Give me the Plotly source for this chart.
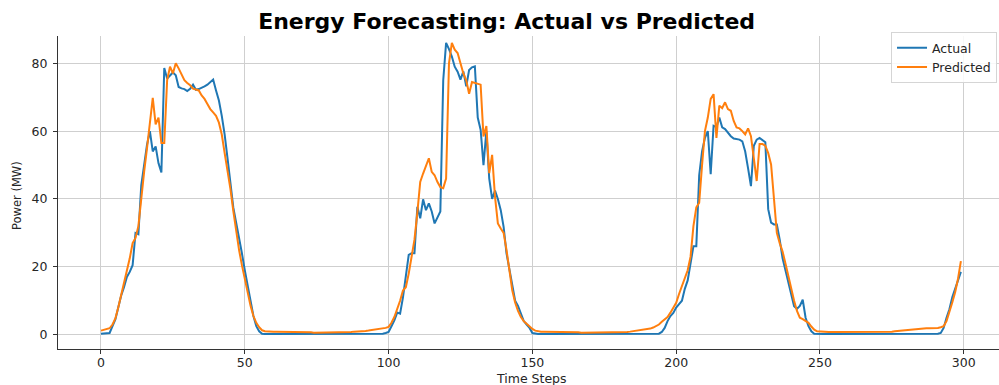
import plotly.graph_objects as go

time_steps = list(range(300))

actual = [
    0.3, 0.3, 0.3, 0.5, 2.5, 4.5, 8.0, 11.5, 14.0, 17.0,
    18.5, 20.5, 30.0, 29.6, 44.0, 50.0, 56.0, 60.0, 54.0, 55.5,
    50.5, 47.8, 78.6, 75.5, 76.5, 77.3, 76.5, 73.0, 72.6, 72.4,
    71.8, 72.5, 73.7, 72.2, 72.4, 72.7, 73.2, 73.7, 74.5, 75.2,
    72.0, 69.0, 64.5, 59.0, 52.0, 44.0, 37.5, 33.0, 29.0, 24.0,
    19.0, 14.0, 10.0, 5.5, 2.5, 1.0, 0.3, 0.2, 0.2, 0.2,
    0.2, 0.2, 0.2, 0.1, 0.2, 0.2, 0.2, 0.2, 0.1, 0.2,
    0.2, 0.2, 0.2, 0.2, 0.2, 0.1, 0.2, 0.2, 0.2, 0.2,
    0.2, 0.2, 0.1, 0.2, 0.2, 0.2, 0.2, 0.2, 0.2, 0.2,
    0.2, 0.2, 0.2, 0.2, 0.2, 0.2, 0.2, 0.3, 0.3, 0.5,
    0.8, 2.5, 4.2, 6.5, 6.2, 11.0, 18.0, 23.5, 24.0, 24.0,
    37.7, 34.3, 39.9, 36.7, 38.7, 36.3, 32.8, 34.8, 36.3, 75.0,
    86.0, 84.2, 82.0, 79.0, 77.5, 75.2, 77.6, 73.2, 78.0, 78.8,
    79.1, 64.0, 60.4, 50.0, 60.0, 46.0, 40.0, 42.5, 40.0, 36.7,
    31.8, 24.0, 19.0, 15.0, 10.0, 8.5, 6.5, 4.0, 3.0, 2.0,
    0.5, 0.3, 0.2, 0.2, 0.2, 0.2, 0.2, 0.2, 0.2, 0.2,
    0.2, 0.2, 0.2, 0.1, 0.2, 0.2, 0.2, 0.2, 0.2, 0.2,
    0.2, 0.2, 0.2, 0.2, 0.1, 0.2, 0.2, 0.2, 0.2, 0.2,
    0.2, 0.2, 0.2, 0.2, 0.2, 0.2, 0.2, 0.2, 0.2, 0.2,
    0.2, 0.2, 0.2, 0.2, 0.3, 0.8, 2.0, 4.0, 5.5, 6.4,
    8.0, 9.0, 10.0, 13.5, 16.0, 21.0, 26.1, 26.1, 47.0, 54.0,
    58.0, 60.0, 47.3, 61.6, 61.2, 64.0, 61.1, 60.6, 59.5, 58.5,
    57.8, 57.6, 57.5, 57.0, 54.0, 49.0, 43.8, 55.7, 57.5, 58.0,
    57.2, 56.7, 37.0, 33.0, 32.5, 32.5, 28.0, 22.5, 19.0, 15.5,
    12.0, 8.4, 7.6, 8.5, 10.3, 5.0, 2.5, 1.0, 0.3, 0.2,
    0.2, 0.2, 0.2, 0.2, 0.2, 0.2, 0.2, 0.2, 0.2, 0.2,
    0.2, 0.2, 0.2, 0.2, 0.1, 0.2, 0.2, 0.2, 0.2, 0.2,
    0.2, 0.2, 0.2, 0.2, 0.2, 0.2, 0.2, 0.1, 0.2, 0.2,
    0.2, 0.2, 0.2, 0.2, 0.2, 0.2, 0.2, 0.2, 0.2, 0.2,
    0.2, 0.3, 0.5, 2.0, 5.0, 7.5, 11.0, 13.5, 16.0, 18.5,
]

predicted = [
    1.2, 1.4, 1.6, 1.9, 3.0, 4.8, 8.0, 11.5, 15.0, 19.0,
    22.5, 27.0, 28.5, 32.0, 40.7, 48.0, 55.0, 62.0, 69.8, 62.0,
    64.0, 56.5, 56.5, 75.0, 79.0, 77.0, 80.0, 78.5, 76.5, 75.0,
    74.2, 73.5, 72.5, 72.2, 72.0, 70.5, 69.5, 68.0, 66.5, 65.5,
    64.5, 62.5, 59.0, 53.5, 48.5, 43.0, 36.5, 30.5, 25.0, 20.5,
    16.5, 12.0, 8.5, 5.5, 3.5, 2.2, 1.3, 1.0, 0.9, 0.9,
    0.9, 0.9, 0.9, 0.8, 0.8, 0.8, 0.8, 0.8, 0.8, 0.7,
    0.7, 0.7, 0.7, 0.7, 0.6, 0.6, 0.6, 0.6, 0.6, 0.6,
    0.6, 0.6, 0.6, 0.7, 0.7, 0.7, 0.8, 0.8, 0.9, 0.9,
    1.0, 1.0, 1.1, 1.2, 1.3, 1.4, 1.5, 1.6, 1.8, 2.0,
    2.3, 3.5, 5.2, 7.5, 10.0, 13.0, 14.0, 18.0, 23.0, 28.0,
    36.0, 45.0, 47.5, 50.0, 52.0, 48.0, 47.0, 45.0, 43.5, 43.2,
    46.0, 80.0, 86.0, 84.0, 83.0, 80.0, 77.0, 75.0, 71.0, 74.5,
    74.2, 74.0, 73.7, 58.4, 61.5, 47.6, 53.0, 40.7, 32.8, 31.3,
    30.0, 25.0, 19.0, 13.1, 9.5, 7.0, 5.2, 4.0, 3.2, 2.3,
    1.7, 1.2, 1.0, 0.9, 0.9, 0.9, 0.8, 0.8, 0.8, 0.8,
    0.7, 0.7, 0.7, 0.7, 0.7, 0.7, 0.7, 0.6, 0.6, 0.6,
    0.6, 0.6, 0.6, 0.6, 0.6, 0.6, 0.6, 0.6, 0.6, 0.6,
    0.7, 0.7, 0.8, 0.8, 0.9, 1.0, 1.1, 1.2, 1.3, 1.4,
    1.5, 1.8, 2.1, 2.5, 3.0, 3.8, 4.5, 5.2, 6.5, 8.0,
    9.4, 12.0, 14.5, 16.5, 19.0, 23.0, 32.0, 37.5, 38.9, 50.0,
    60.0, 64.0, 69.5, 70.9, 58.0, 67.5, 66.8, 68.5, 66.5, 66.0,
    63.0, 61.1, 60.8, 60.0, 59.0, 60.8, 58.5, 52.0, 45.3, 56.2,
    56.2, 55.7, 53.5, 50.2, 40.0, 30.0, 27.0, 24.5, 21.0, 17.0,
    13.0, 10.0, 7.0, 5.0, 4.6, 4.0, 3.5, 2.4, 1.5, 1.0,
    0.9, 0.9, 0.9, 0.8, 0.8, 0.8, 0.8, 0.8, 0.7, 0.7,
    0.7, 0.7, 0.7, 0.7, 0.7, 0.7, 0.7, 0.7, 0.7, 0.7,
    0.7, 0.8, 0.8, 0.8, 0.9, 0.9, 1.0, 1.1, 1.2, 1.3,
    1.4, 1.5, 1.6, 1.7, 1.8, 1.8, 1.8, 1.9, 1.9, 1.9,
    1.9, 2.0, 2.2, 2.5, 4.0, 6.5, 9.5, 12.5, 16.5, 21.7,
]

x_ticks = [0, 50, 100, 150, 200, 250, 300]
y_ticks = [0, 20, 40, 60, 80]

FONT = "DejaVu Sans"
W, H = 999, 385
ML, MR, MT, MB = 58, 0, 36, 36

fig = go.Figure()
fig.add_trace(go.Scatter(x=time_steps, y=actual, mode="lines", name="Actual",
                         line=dict(color="#1f77b4", width=2)))
fig.add_trace(go.Scatter(x=time_steps, y=predicted, mode="lines", name="Predicted",
                         line=dict(color="#ff7f0e", width=2)))

axis_common = dict(
    showgrid=True, gridcolor="#cfcfcf", gridwidth=1,
    zeroline=False, showline=True, linecolor="#333333", linewidth=1,
    ticks="outside", ticklen=4, tickcolor="#333333", tickwidth=1,
    tickfont=dict(family=FONT, size=12.5, color="#262626"),
)

fig.update_layout(
    width=W, height=H,
    margin=dict(l=ML, r=MR, t=MT, b=MB, pad=0),
    paper_bgcolor="white", plot_bgcolor="white",
    font=dict(family=FONT, size=12.5, color="#262626"),
    title=dict(text="<b>Energy Forecasting: Actual vs Predicted</b>",
               font=dict(family=FONT, size=22, color="black"),
               x=506.6 / W, xref="container", xanchor="center",
               y=1 - 21 / H, yref="container", yanchor="middle"),
    xaxis=dict(range=[-14.95, 312.25], tickvals=x_ticks, ticklabelstandoff=-2,
               **axis_common),
    yaxis=dict(range=[-4.22, 88.04], tickvals=y_ticks, ticklabelstandoff=3,
               **axis_common),
    showlegend=True,
    legend=dict(x=0.9979, y=1.012, xanchor="right", yanchor="top",
                bgcolor="rgba(255,255,255,0.85)", bordercolor="#d5d5d5",
                borderwidth=1, itemwidth=30, tracegroupgap=0,
                entrywidth=92, entrywidthmode="pixels",
                font=dict(family=FONT, size=12.5, color="#262626")),
    annotations=[
        dict(text="Time Steps", xref="paper", yref="paper",
             x=(531 - ML) / (W - ML - MR), y=(349 - 378) / (H - MT - MB),
             xanchor="center", yanchor="middle", showarrow=False,
             font=dict(family=FONT, size=12.5, color="#262626")),
        dict(text="Power (MW)", xref="paper", yref="paper", textangle=-90,
             x=(17 - ML) / (W - ML - MR), y=(349 - 196) / (H - MT - MB),
             xanchor="center", yanchor="middle", showarrow=False,
             font=dict(family=FONT, size=11.5, color="#262626")),
    ],
)

fig.write_html("out.html")
